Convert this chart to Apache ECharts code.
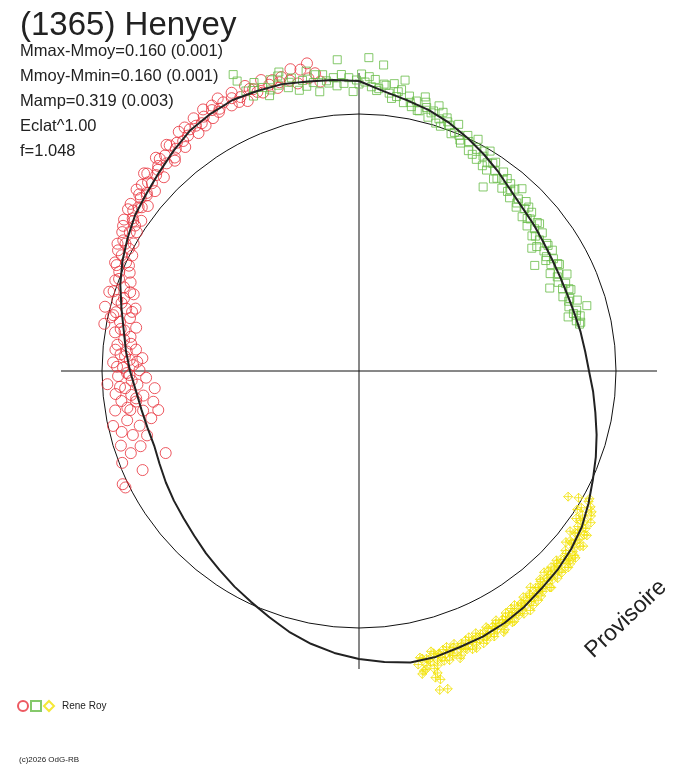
<!DOCTYPE html>
<html>
<head>
<meta charset="utf-8">
<script src="https://cdn.jsdelivr.net/npm/echarts@6/dist/echarts.min.js"></script>
<style>
  html, body { margin: 0; padding: 0; background: #fff; }
  #polar-chart { width: 688px; height: 768px; }
</style>
</head>
<body>
<div id="polar-chart"></div>
<script>
// fitted lightcurve: phase (deg, clockwise from top) and mag offset from mean
var curvePhase = [0, 5, 10, 15, 20, 25, 30, 35, 40, 45, 50, 55, 60, 65, 70, 75, 80, 85,
  90, 95, 100, 105, 110, 115, 120, 125, 130, 135, 140, 145, 150, 155, 160, 165, 170, 175,
  180, 185, 190, 195, 200, 205, 210, 215, 220, 225, 230, 235, 240, 245, 250, 255, 260, 265,
  270, 275, 280, 285, 290, 295, 300, 305, 310, 315, 320, 325, 330, 335, 340, 345, 350, 355];
var curveMag = [0.132, 0.096, 0.072, 0.052, 0.028, 0.000, -0.028, -0.056, -0.084, -0.104,
  -0.116, -0.128, -0.136, -0.140, -0.140, -0.136, -0.128, -0.120,
  -0.108, -0.088, -0.068, -0.044, -0.020, 0.004, 0.032, 0.060, 0.080, 0.096, 0.108, 0.124,
  0.136, 0.144, 0.148, 0.156, 0.156, 0.140,
  0.124, 0.104, 0.080, 0.052, 0.020, -0.008, -0.032, -0.056, -0.076, -0.096, -0.112, -0.124,
  -0.136, -0.148, -0.156, -0.152, -0.144, -0.132,
  -0.112, -0.092, -0.072, -0.044, -0.012, 0.016, 0.040, 0.064, 0.080, 0.100, 0.124, 0.148,
  0.160, 0.168, 0.164, 0.160, 0.148, 0.140];

// session 1 (red circles): [mag offset, phase]
var redPts = [
  [0.016,243.5],[0.020,244.4],[-0.076,245.4],[-0.012,248.8],[-0.188,247.0],[-0.058,250.2],[-0.104,251.0],
  [-0.030,252.6],[-0.142,253.1],[-0.088,254.2],[-0.048,255.6],[-0.124,256.0],[-0.176,257.2],[-0.080,258.0],
  [-0.020,257.4],[-0.210,259.0],[-0.150,259.6],[-0.100,260.3],[-0.040,260.8],[-0.196,261.5],[-0.128,262.2],
  [-0.070,262.8],[-0.160,263.5],[-0.112,264.0],[-0.050,264.6],[-0.208,265.2],[-0.090,265.8],[-0.140,266.5],
  [-0.020,267.0],[-0.118,267.6],[-0.176,268.2],[-0.064,268.8],[-0.100,269.5],[-0.150,270.2],[-0.084,270.8],
  [-0.124,271.5],[-0.044,272.0],[-0.110,272.8],[-0.160,273.4],[-0.072,274.0],[-0.096,274.8],[-0.132,275.5],
  [-0.056,276.2],[-0.104,278.5],[-0.040,279.0],[-0.076,279.8],[0.008,280.5],[-0.120,281.0],[-0.052,281.6],
  [-0.012,282.2],[-0.088,283.0],[-0.028,283.6],[0.020,284.2],[-0.064,285.0],[-0.100,285.6],[-0.020,286.4],
  [-0.044,287.2],[0.004,288.0],[-0.076,288.8],[-0.030,289.6],[0.012,290.4],[-0.048,291.2],[0.010,292.5],
  [-0.030,293.2],[0.040,294.0],[0.000,295.0],[0.028,296.0],[-0.010,297.0],[0.064,297.8],[0.036,298.6],
  [0.008,299.5],[0.070,300.4],[0.044,301.2],[0.020,302.0],[0.090,302.8],[0.056,303.6],[0.030,304.6],
  [0.080,305.4],[0.104,306.2],[0.060,307.0],[0.044,308.0],[0.100,308.8],[0.074,309.6],[0.116,310.6],
  [0.060,311.4],[0.090,312.2],[0.130,313.0],[0.100,314.0],[0.072,314.8],[0.120,315.6],[0.150,316.4],
  [0.104,317.2],[0.132,318.0],[0.090,318.8],[0.160,319.6],[0.124,320.5],[0.140,321.4],[0.106,322.2],
  [0.170,323.0],[0.136,324.0],[0.152,325.0],[0.120,326.0],[0.180,326.8],[0.146,327.6],[0.164,328.6],
  [0.140,330.0],[0.186,331.0],[0.160,332.0],[0.176,333.2],[0.150,334.4],[0.196,335.4],[0.166,336.6],
  [0.140,337.6],[0.182,338.8],[0.160,340.0],[0.200,341.4],[0.172,342.6],[0.150,344.0],[0.188,345.2],
  [0.166,346.6],[0.148,348.0],[0.210,347.2],[0.200,349.0],[0.160,350.2],[0.220,350.4],[0.176,351.6],
  [0.140,352.4],
  [-0.090,261.0],[-0.130,263.0],[-0.070,266.2],[-0.110,269.0],[-0.060,271.0],[-0.140,272.4],[-0.090,273.6],
  [-0.050,275.0],[-0.110,276.8],[-0.080,277.6],[-0.060,280.0],[-0.020,282.8],[-0.090,284.6],[-0.040,286.0],
  [0.020,287.6],[-0.060,289.0],[0.000,291.0],[0.030,293.6],[-0.016,294.6],[0.050,296.6],[0.014,298.0],
  [0.050,299.0],[0.080,301.6],[0.040,303.0],[0.064,304.0],[0.100,305.0],[0.070,306.6],[0.086,308.4],
  [0.120,309.2],[0.080,310.0],[0.104,311.8],[0.140,312.6],[0.110,315.0],[0.136,316.8],[0.100,319.2],
  [0.150,320.0],[0.130,322.6],[0.170,324.4],[0.150,326.4],[0.130,328.0],[0.190,329.2],[0.170,330.6],
  [0.150,331.6],[0.200,332.6],[0.176,335.0],[0.150,336.0],[0.200,338.2],[0.176,339.4],[0.150,341.0],
  [0.186,343.4],[0.170,344.6]
];

// session 2 (green squares)
var greenPts = [
  [0.260,337.0],[0.230,337.2],[0.180,338.0],[0.150,339.0],[0.200,340.0],[0.170,341.2],[0.130,342.0],
  [0.190,343.0],[0.160,344.2],[0.210,345.0],[0.140,346.0],[0.175,347.0],[0.120,348.0],[0.156,349.0],
  [0.190,350.0],[0.140,351.0],[0.100,352.0],[0.166,353.0],[0.130,354.0],[0.150,355.0],[0.220,356.0],
  [0.124,357.0],[0.146,358.0],[0.090,358.8],[0.136,359.5],[0.160,0.5],[0.128,1.2],[0.226,1.8],[0.110,2.5],
  [0.140,3.2],[0.104,4.0],[0.200,4.6],[0.120,5.4],[0.090,6.2],[0.130,7.0],[0.080,7.8],[0.110,8.6],
  [0.060,9.4],[0.150,9.0],[0.090,10.4],[0.050,11.2],[0.076,12.0],[0.040,13.0],[0.100,13.6],[0.060,14.4],
  [0.024,15.2],[0.054,16.0],[0.080,16.8],[0.030,17.6],[0.004,18.4],[0.044,19.2],[0.020,20.2],[-0.010,21.2],
  [0.036,22.0],[-0.004,23.0],[-0.030,24.0],[0.010,24.8],[-0.010,25.6],[-0.044,26.4],[0.014,27.2],
  [-0.024,28.0],[-0.060,29.0],[-0.036,30.0],[-0.004,30.8],[-0.050,31.6],[-0.076,32.4],[-0.030,33.2],
  [-0.060,34.2],[-0.140,34.0],[-0.090,35.0],[-0.044,36.0],[-0.070,37.0],[-0.100,38.0],[-0.064,39.0],
  [-0.084,40.0],[-0.110,41.0],[-0.050,41.8],[-0.090,42.8],[-0.120,43.8],[-0.076,44.6],[-0.100,45.6],
  [-0.130,46.6],[-0.090,47.4],[-0.112,48.4],[-0.140,49.2],[-0.100,50.2],[-0.124,51.0],[-0.150,52.0],
  [-0.110,53.0],[-0.136,54.0],[-0.180,54.6],[-0.160,55.0],[-0.120,55.8],[-0.146,57.0],[-0.116,58.0],
  [-0.208,59.0],[-0.160,59.4],[-0.130,60.0],[-0.150,61.0],[-0.120,62.0],[-0.170,63.0],[-0.140,64.0],
  [-0.110,65.0],[-0.156,66.0],[-0.196,66.5],[-0.130,67.0],[-0.150,68.0],[-0.120,69.0],[-0.160,70.0],
  [-0.136,71.0],[-0.110,72.0],[-0.150,73.0],[-0.080,74.0],[-0.124,74.4],[-0.140,75.0],[-0.164,75.5],
  [-0.116,76.0],[-0.136,77.0],[-0.126,78.0],
  [0.180,339.6],[0.150,342.6],[0.196,344.6],[0.160,346.4],[0.130,349.6],[0.170,351.6],[0.140,353.6],
  [0.116,355.6],[0.160,356.6],[0.120,0.0],[0.150,2.0],[0.096,3.6],[0.124,5.0],[0.070,6.8],[0.100,8.0],
  [0.066,10.8],[0.040,12.6],[0.080,14.0],[0.044,15.6],[0.010,17.2],[0.060,18.0],[0.030,19.6],[0.000,21.8],
  [-0.020,23.6],[-0.050,27.6],[-0.016,29.6],[-0.070,31.0],[-0.040,32.8],[-0.080,35.6],[-0.056,37.6],
  [-0.096,39.6],[-0.070,40.6],[-0.106,43.2],[-0.084,46.0],[-0.120,47.8],[-0.096,50.8],[-0.140,52.6],
  [-0.120,56.4],[-0.150,58.6],[-0.124,61.6],[-0.150,64.6],[-0.126,68.6],[-0.144,71.6],[-0.130,75.6],
  [-0.120,77.6]
];

// session 3 (yellow diamonds)
var yellowPts = [
  [-0.052,121.0],[-0.014,120.0],[0.026,119.0],[0.046,120.4],[0.016,121.6],[0.066,122.0],[0.036,122.8],
  [0.056,123.6],[0.022,124.2],[0.076,124.8],[0.046,125.4],[0.086,126.0],[0.060,126.6],[0.032,127.2],
  [0.076,127.8],[0.100,128.4],[0.066,129.0],[0.046,129.6],[0.092,130.2],[0.116,130.8],[0.076,131.4],
  [0.106,132.0],[0.086,132.6],[0.120,133.2],[0.066,133.8],[0.086,134.4],[0.104,135.0],[0.070,135.6],
  [0.120,136.2],[0.090,136.8],[0.066,137.4],[0.100,138.0],[0.126,138.6],[0.084,139.2],[0.110,139.8],
  [0.096,140.4],[0.130,141.0],[0.076,141.6],[0.116,142.2],[0.100,142.8],[0.140,143.4],[0.090,144.0],
  [0.120,144.6],[0.106,145.2],[0.146,145.8],[0.096,146.4],[0.130,147.0],[0.116,147.6],[0.150,148.2],
  [0.104,148.8],[0.136,149.4],[0.120,150.0],[0.160,150.6],[0.110,151.2],[0.144,151.8],[0.126,152.4],
  [0.164,153.0],[0.116,153.6],[0.150,154.2],[0.134,154.8],[0.170,155.4],[0.120,156.0],[0.156,156.6],
  [0.140,157.2],[0.174,157.8],[0.130,158.4],[0.160,159.0],[0.146,159.6],[0.180,160.2],[0.128,160.8],
  [0.162,161.4],[0.150,162.0],[0.184,162.6],[0.136,163.2],[0.166,163.8],[0.150,164.4],[0.190,165.0],
  [0.130,165.6],[0.170,166.2],[0.154,166.8],[0.196,167.4],[0.144,168.0],[0.220,165.4],[0.236,166.0],
  [0.200,167.8],[0.288,165.8],[0.292,164.4],[0.248,165.2],
  [0.028,119.6],[0.060,121.2],[0.006,122.4],[0.080,123.2],[0.040,124.0],[0.066,125.0],[0.096,125.8],
  [0.052,126.8],[0.080,127.4],[0.110,128.0],[0.056,128.8],[0.086,129.4],[0.106,130.6],[0.066,131.0],
  [0.096,131.8],[0.116,132.4],[0.076,133.0],[0.110,133.6],[0.076,134.2],[0.116,134.8],[0.084,135.4],
  [0.100,136.0],[0.074,136.6],[0.110,137.2],[0.090,137.8],[0.130,138.4],[0.076,139.0],[0.104,139.6],
  [0.120,140.2],[0.090,140.8],[0.110,141.4],[0.136,142.0],[0.094,142.6],[0.124,143.2],[0.110,143.8],
  [0.150,144.4],[0.104,145.0],[0.130,145.6],[0.116,146.2],[0.140,146.8],[0.100,147.4],[0.124,148.0],
  [0.150,148.6],[0.116,149.2],[0.140,149.8],[0.130,150.4],[0.166,151.0],[0.120,151.6],[0.136,152.2],
  [0.154,152.8],[0.124,153.4],[0.146,154.0],[0.164,154.6],[0.130,155.2],[0.150,155.8],[0.140,156.4],
  [0.176,157.0],[0.124,157.6],[0.150,158.2],[0.166,158.8],[0.136,159.4],[0.156,160.0],[0.190,160.6],
  [0.140,161.2],[0.170,161.8],[0.130,162.4],[0.156,163.0],[0.180,163.6],[0.146,164.2],[0.170,164.8],
  [0.140,165.2],[0.200,165.8],[0.160,166.4],[0.180,167.0],[0.150,167.6],[0.210,168.2],[0.170,168.6]
];

var infoLines = ['Mmax-Mmoy=0.160 (0.001)', 'Mmoy-Mmin=0.160 (0.001)', 'Mamp=0.319 (0.003)', 'Eclat^1.00', 'f=1.048'];

var chartDom = document.getElementById('polar-chart');
var lc = echarts.init(chartDom);

var curveData = curvePhase.map(function (p, i) { return [curveMag[i], p]; });
curveData.push([curveMag[0], 360]);

var FONT = 'Liberation Sans, Arial, sans-serif';
var CX = 359, CY = 371;

function hiddenAngle(idx) {
  return {
    polarIndex: idx, type: 'value', min: 0, max: 360, startAngle: 90, clockwise: true,
    axisLine: { show: false }, axisTick: { show: false }, axisLabel: { show: false },
    splitLine: { show: false }, splitArea: { show: false }
  };
}
function hiddenRadius(idx, mn, mx) {
  return {
    polarIndex: idx, type: 'value', min: mn, max: mx,
    axisLine: { show: false }, axisTick: { show: false }, axisLabel: { show: false },
    splitLine: { show: false }, splitArea: { show: false }
  };
}

// cross through the centre
var crossAngle = hiddenAngle(0);
crossAngle.interval = 90;
crossAngle.splitLine = { show: true, lineStyle: { color: '#111', width: 1 } };

// mean-magnitude circle
var circleAngle = hiddenAngle(1);
circleAngle.axisLine = { show: true, lineStyle: { color: '#111', width: 1 } };

var option = {
  animation: false,
  backgroundColor: '#fff',
  polar: [
    { center: [CX, CY], radius: 298 },
    { center: [CX, CY], radius: 257 },
    { center: [CX, CY], radius: 340 }
  ],
  angleAxis: [crossAngle, circleAngle, hiddenAngle(2)],
  radiusAxis: [hiddenRadius(0, 0, 1), hiddenRadius(1, 0, 1), hiddenRadius(2, -1.028, 0.332)],
  legend: {
    left: 12, top: 695, itemWidth: 10, itemHeight: 10, itemGap: 1,
    data: [
      { name: 's1' }, { name: 's2' },
      { name: 's3', icon: 'diamond' }
    ],
    formatter: function (name) { return name === 's3' ? 'Rene Roy' : ''; },
    textStyle: { fontFamily: FONT, fontSize: 10, color: '#222', padding: [0, 0, 0, 3] }
  },
  graphic: [
    { type: 'text', left: 20, top: 9, style: { text: '(1365) Henyey', fontFamily: FONT, fontSize: 33, fill: '#222' } }
  ].concat(infoLines.map(function (t, i) {
    return { type: 'text', left: 20, top: 43 + i * 25, style: { text: t, fontFamily: FONT, fontSize: 16.5, fill: '#222' } };
  })).concat([
    { type: 'text', left: 19, top: 756, style: { text: '(c)2026 OdG-RB', fontFamily: FONT, fontSize: 8, fill: '#222' } },
    { type: 'text', x: 626, y: 619, rotation: 0.76,
      style: { text: 'Provisoire', fontFamily: FONT, fontSize: 23, fill: '#222', align: 'center', verticalAlign: 'middle' } }
  ]),
  series: [
    {
      name: 's1', type: 'scatter', coordinateSystem: 'polar', polarIndex: 2,
      symbol: 'circle', symbolSize: 11, data: redPts,
      itemStyle: { color: 'rgba(0,0,0,0)', borderColor: '#e8303a', borderWidth: 1 }
    },
    {
      name: 's2', type: 'scatter', coordinateSystem: 'polar', polarIndex: 2,
      symbol: 'rect', symbolSize: 8, data: greenPts,
      itemStyle: { color: 'rgba(0,0,0,0)', borderColor: '#66bb46', borderWidth: 1 }
    },
    {
      name: 's3', type: 'scatter', coordinateSystem: 'polar', polarIndex: 2,
      // small diamond with its error bars
      symbol: 'path://M5,0L10,5L5,10L0,5ZM5,0L5,10M0,5L10,5', symbolSize: 9, data: yellowPts,
      itemStyle: { color: 'rgba(0,0,0,0)', borderColor: '#f2e205', borderWidth: 1 }
    },
    {
      name: 'fit', type: 'line', coordinateSystem: 'polar', polarIndex: 2,
      data: curveData, smooth: false, showSymbol: false, silent: true, z: 5,
      lineStyle: { color: '#222', width: 2 }
    }
  ]
};

option && lc.setOption(option);
</script>
</body>
</html>
